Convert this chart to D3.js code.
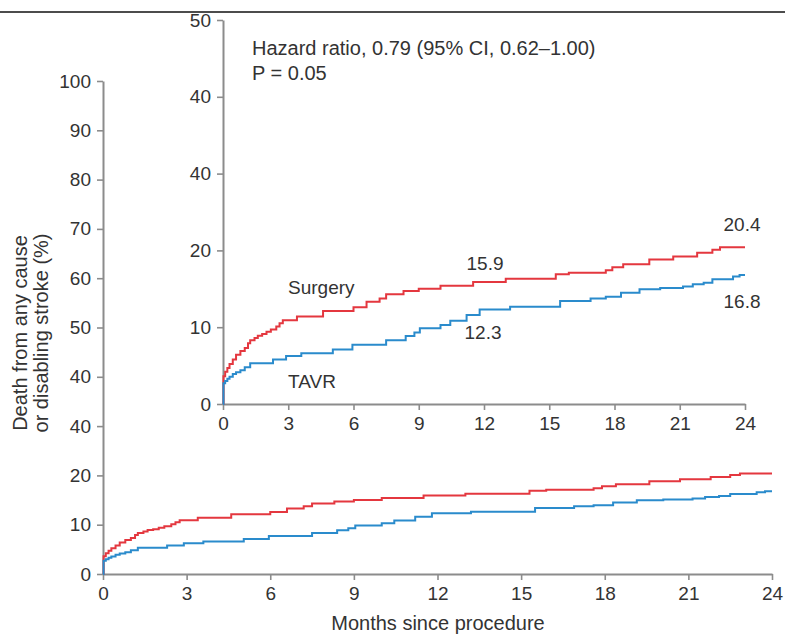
<!DOCTYPE html>
<html>
<head>
<meta charset="utf-8">
<script src="https://cdn.jsdelivr.net/npm/d3@7"></script>
<style>
  html, body { margin: 0; padding: 0; background: #fff; }
  svg { display: block; font-family: "Liberation Sans", Arial, Helvetica, sans-serif; }
</style>
</head>
<body>
<svg id="chart" width="785" height="635"></svg>
<script>
// ---- Data ----
const surgeryMonths = [0, 0.02, 0.1, 0.2, 0.3, 0.45, 0.6, 0.8, 1.0, 1.15, 1.25, 1.45, 1.6, 1.8, 2.0, 2.2, 2.45, 2.6, 2.75, 3.4, 4.6, 6.0, 6.6, 7.2, 7.5, 8.3, 9.0, 10.0, 11.5, 13.0, 15.3, 15.9, 17.6, 17.9, 18.4, 19.6, 20.7, 21.8, 22.5, 22.85, 24];
const surgeryValues = [0, 3.6, 4.2, 4.7, 5.2, 5.8, 6.4, 6.9, 7.3, 7.9, 8.3, 8.6, 8.9, 9.1, 9.4, 9.7, 10.1, 10.5, 10.9, 11.4, 12.1, 12.6, 13.3, 13.75, 14.3, 14.7, 15.0, 15.4, 15.9, 16.3, 16.9, 17.1, 17.4, 17.8, 18.2, 18.8, 19.2, 19.7, 20.1, 20.4, 20.4];
const tavrMonths = [0, 0.02, 0.1, 0.2, 0.3, 0.45, 0.6, 0.8, 1.0, 1.25, 2.3, 2.9, 3.6, 5.05, 5.95, 7.5, 8.4, 8.8, 9.05, 10.0, 10.45, 11.2, 11.8, 13.2, 15.5, 16.9, 17.6, 18.3, 19.15, 20.1, 21.15, 21.6, 22.1, 22.5, 23.45, 23.75, 24];
const tavrValues = [0, 2.7, 3.0, 3.3, 3.55, 3.9, 4.15, 4.4, 4.8, 5.3, 5.8, 6.25, 6.6, 7.1, 7.7, 8.3, 8.85, 9.3, 9.85, 10.3, 10.85, 11.6, 12.3, 12.65, 13.4, 13.75, 13.95, 14.5, 14.95, 15.1, 15.3, 15.6, 15.8, 16.25, 16.6, 16.8, 16.8];

const xTicks = [0, 3, 6, 9, 12, 15, 18, 21, 24];
const mainYTicks = [0, 10, 20, 30, 40, 50, 60, 70, 80, 90, 100];
const mainYTickLabels = ["0", "10", "20", "40", "40", "50", "60", "70", "80", "90", "100"];
const insetYTicks = [0, 10, 20, 30, 40, 50];
const insetYTickLabels = ["0", "10", "20", "40", "40", "50"];

const seriesNames = ["Surgery", "TAVR"];
const endLabels = [
  { series: "Surgery", month: 12, text: "15.9" },
  { series: "TAVR", month: 12, text: "12.3" },
  { series: "Surgery", month: 24, text: "20.4" },
  { series: "TAVR", month: 24, text: "16.8" }
];
const hazardText = ["Hazard ratio, 0.79 (95% CI, 0.62\u20131.00)", "P = 0.05"];
const yTitle = ["Death from any cause", "or disabling stroke (%)"];
const xTitle = "Months since procedure";

// ---- Styles ----
const RED = "#e4373f";
const BLUE = "#2a8bcc";
const AXIS = "#8c8c8c";
const TEXT = "#333333";

const svg = d3.select("#chart");

const series = [
  { name: "Surgery", color: RED, data: surgeryMonths.map((m, i) => ({ m, v: surgeryValues[i] })) },
  { name: "TAVR", color: BLUE, data: tavrMonths.map((m, i) => ({ m, v: tavrValues[i] })) }
];

// top rule
svg.append("line").attr("x1", 0).attr("x2", 785).attr("y1", 12).attr("y2", 12)
  .attr("stroke", "#111").attr("stroke-width", 1.5);

function styleAxis(g) {
  g.selectAll("path.domain").attr("stroke", AXIS).attr("stroke-width", 2);
  g.selectAll(".tick line").attr("stroke", AXIS).attr("stroke-width", 1.6);
  g.selectAll(".tick text").attr("fill", TEXT).attr("font-size", 19)
    .attr("font-family", "\"Liberation Sans\", Arial, sans-serif");
}

// ---- Main panel ----
const mx = d3.scaleLinear().domain([0, 24]).range([103, 772]);
const my = d3.scaleLinear().domain([0, 100]).range([574, 81]);

const mxAxis = svg.append("g").attr("transform", "translate(0,574)")
  .call(d3.axisBottom(mx).tickValues(xTicks).tickSize(6).tickSizeOuter(0).tickPadding(5));
styleAxis(mxAxis);
mxAxis.selectAll(".tick text").attr("dy", "0.78em");

const myAxis = svg.append("g").attr("transform", "translate(103,0)")
  .call(d3.axisLeft(my).tickValues(mainYTicks).tickFormat((d, i) => mainYTickLabels[i]).tickSize(6).tickSizeOuter(0).tickPadding(6));
styleAxis(myAxis);

const mLine = d3.line().x(d => mx(d.m)).y(d => my(d.v)).curve(d3.curveStepAfter);
series.forEach(s => {
  svg.append("path").datum(s.data).attr("d", mLine)
    .attr("fill", "none").attr("stroke", s.color).attr("stroke-width", 2);
});

// axis titles
svg.append("text").attr("x", 438).attr("y", 630).attr("text-anchor", "middle")
  .attr("font-size", 20).attr("fill", TEXT).text(xTitle);
const yt = svg.append("text").attr("transform", "translate(27,333) rotate(-90)")
  .attr("text-anchor", "middle").attr("font-size", 20).attr("fill", TEXT);
yTitle.forEach((t, i) => yt.append("tspan").attr("x", 0).attr("y", i * 21).text(t));

// ---- Inset panel ----
const ix = d3.scaleLinear().domain([0, 24]).range([223, 745]);
const iy = d3.scaleLinear().domain([0, 50]).range([404, 20]);

const ixAxis = svg.append("g").attr("transform", "translate(0,404)")
  .call(d3.axisBottom(ix).tickValues(xTicks).tickSize(6).tickSizeOuter(0).tickPadding(5));
styleAxis(ixAxis);
ixAxis.selectAll(".tick text").attr("dy", "0.78em");

const iyAxis = svg.append("g").attr("transform", "translate(223,0)")
  .call(d3.axisLeft(iy).tickValues(insetYTicks).tickFormat((d, i) => insetYTickLabels[i]).tickSize(6).tickSizeOuter(0).tickPadding(6));
styleAxis(iyAxis);

const iLine = d3.line().x(d => ix(d.m)).y(d => iy(d.v)).curve(d3.curveStepAfter);
series.forEach(s => {
  svg.append("path").datum(s.data).attr("d", iLine)
    .attr("fill", "none").attr("stroke", s.color).attr("stroke-width", 2);
});

// hazard text
hazardText.forEach((t, i) => {
  svg.append("text").attr("x", 252).attr("y", 55 + i * 25)
    .attr("font-size", 20).attr("fill", TEXT).text(t);
});

// series names
svg.append("text").attr("x", 288).attr("y", 294).attr("font-size", 19).attr("fill", TEXT).text(seriesNames[0]);
svg.append("text").attr("x", 288).attr("y", 388).attr("font-size", 19).attr("fill", TEXT).text(seriesNames[1]);

// value labels
function valueAt(name, month) {
  const s = series.find(q => q.name === name).data;
  let v = s[0].v;
  s.forEach(d => { if (d.m <= month) v = d.v; });
  return v;
}
const labelOffsets = {
  "Surgery|12": { dx: 1, dy: -12 },
  "TAVR|12": { dx: -1, dy: 29 },
  "Surgery|24": { dx: -3, dy: -16 },
  "TAVR|24": { dx: -3, dy: 33 }
};
endLabels.forEach(l => {
  const off = labelOffsets[l.series + "|" + l.month];
  svg.append("text")
    .attr("x", ix(l.month) + off.dx)
    .attr("y", iy(valueAt(l.series, l.month)) + off.dy)
    .attr("text-anchor", "middle")
    .attr("font-size", 19).attr("fill", TEXT).text(l.text);
});
</script>
</body>
</html>
